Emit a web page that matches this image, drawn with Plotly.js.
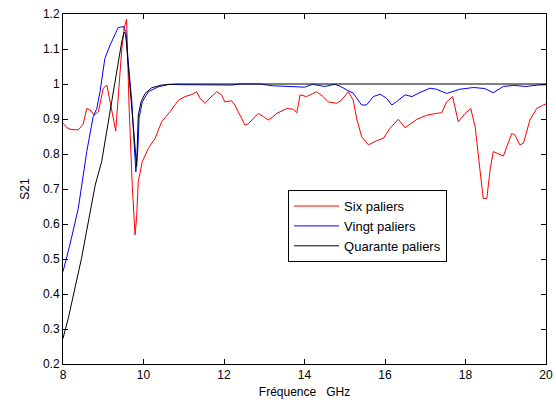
<!DOCTYPE html>
<html>
<head>
<meta charset="utf-8">
<script src="https://cdn.plot.ly/plotly-3.0.1.min.js"></script>
<style>html,body{margin:0;padding:0;background:#fff;}#chart{width:556px;height:403px;}</style>
</head>
<body>
<div id="chart"></div>
<script>
var seriesNames = ["Six paliers", "Vingt paliers", "Quarante paliers"];

var sixX = [8.0, 8.1, 8.2, 8.38, 8.5, 8.59, 8.67, 8.78, 8.88, 9.0, 9.09, 9.2, 9.31, 9.46, 9.52, 9.58, 9.64, 9.72, 9.79, 9.83, 9.87, 9.97, 10.12, 10.29, 10.45, 10.66, 10.87, 11.03, 11.2, 11.32, 11.4, 11.53, 11.65, 11.82, 11.94, 12.02, 12.19, 12.27, 12.4, 12.52, 12.6, 12.72, 12.85, 12.98, 13.1, 13.2, 13.31, 13.56, 13.72, 13.81, 13.89, 14.05, 14.3, 14.45, 14.59, 14.8, 14.92, 15.09, 15.21, 15.3, 15.42, 15.59, 15.79, 15.96, 16.12, 16.33, 16.5, 16.79, 17.04, 17.28, 17.41, 17.53, 17.68, 17.82, 17.99, 18.13, 18.24, 18.36, 18.44, 18.53, 18.61, 18.69, 18.94, 19.15, 19.23, 19.35, 19.44, 19.6, 19.77, 19.93, 20.0];
var sixY = [0.888, 0.875, 0.87, 0.869, 0.885, 0.93, 0.926, 0.911, 0.921, 0.988, 0.997, 0.93, 0.866, 1.10, 1.16, 1.185, 0.94, 0.711, 0.569, 0.62, 0.721, 0.778, 0.816, 0.845, 0.892, 0.921, 0.954, 0.964, 0.97, 0.978, 0.96, 0.945, 0.96, 0.978, 0.969, 0.949, 0.952, 0.94, 0.91, 0.883, 0.886, 0.9, 0.916, 0.907, 0.897, 0.905, 0.916, 0.93, 0.928, 0.918, 0.969, 0.964, 0.978, 0.965, 0.949, 0.945, 0.954, 0.978, 0.954, 0.9, 0.849, 0.826, 0.838, 0.845, 0.873, 0.899, 0.875, 0.899, 0.911, 0.916, 0.918, 0.949, 0.964, 0.892, 0.916, 0.93, 0.878, 0.754, 0.673, 0.673, 0.754, 0.807, 0.794, 0.859, 0.854, 0.826, 0.831, 0.897, 0.93, 0.94, 0.943];

var vingtX = [8.0, 8.17, 8.38, 8.59, 8.75, 8.84, 8.92, 9.04, 9.17, 9.37, 9.5, 9.56, 9.62, 9.71, 9.77, 9.81, 9.86, 9.89, 9.97, 10.12, 10.37, 10.62, 11.0, 11.4, 12.2, 12.4, 12.9, 13.2, 14.0, 14.2, 14.5, 14.75, 14.88, 15.05, 15.21, 15.42, 15.54, 15.71, 15.88, 16.04, 16.17, 16.29, 16.5, 16.67, 16.87, 17.12, 17.28, 17.53, 17.86, 18.2, 18.48, 18.69, 18.94, 19.2, 19.5, 19.8, 20.0];
var vingtY = [0.464, 0.54, 0.645, 0.807, 0.907, 0.93, 0.978, 1.073, 1.111, 1.161, 1.164, 1.15, 1.064, 0.949, 0.826, 0.749, 0.816, 0.902, 0.949, 0.978, 0.992, 0.999, 0.998, 0.997, 0.997, 1.0, 1.0, 0.995, 0.991, 0.999, 0.993, 0.999, 0.994, 0.983, 0.974, 0.94, 0.94, 0.964, 0.971, 0.959, 0.94, 0.95, 0.969, 0.964, 0.976, 0.988, 0.985, 0.973, 0.985, 0.99, 0.987, 0.975, 0.993, 0.996, 0.993, 0.997, 0.998];

var quaranteX = [8.0, 8.13, 8.46, 8.63, 8.8, 8.96, 9.13, 9.29, 9.46, 9.52, 9.56, 9.62, 9.69, 9.77, 9.79, 9.83, 9.87, 9.94, 10.04, 10.2, 10.45, 10.8, 12.0, 14.0, 16.0, 18.0, 20.0];
var quaranteY = [0.273, 0.33, 0.502, 0.607, 0.711, 0.778, 0.892, 1.007, 1.121, 1.148, 1.14, 1.054, 0.949, 0.85, 0.826, 0.765, 0.911, 0.949, 0.973, 0.989, 0.997, 1.0, 1.0, 1.0, 1.0, 1.0, 1.0];

var xTicks = [8, 10, 12, 14, 16, 18, 20];
var yTicks = [0.2, 0.3, 0.4, 0.5, 0.6, 0.7, 0.8, 0.9, 1, 1.1, 1.2];
var yTickText = ["0.2", "0.3", "0.4", "0.5", "0.6", "0.7", "0.8", "0.9", "1", "1.1", "1.2"];

var font = "Liberation Sans, Arial, sans-serif";

var traces = [
  {x: sixX, y: sixY, name: seriesNames[0], mode: "lines", line: {color: "#ff0000", width: 1}},
  {x: vingtX, y: vingtY, name: seriesNames[1], mode: "lines", line: {color: "#0000ff", width: 1}},
  {x: quaranteX, y: quaranteY, name: seriesNames[2], mode: "lines", line: {color: "#000000", width: 1}}
];

var axisCommon = {
  showline: true, linecolor: "#000", linewidth: 1, mirror: "ticks",
  ticks: "inside", ticklen: 5, tickcolor: "#000", showgrid: false, zeroline: false,
  tickfont: {family: font, size: 12, color: "#000"}
};

var layout = {
  width: 556, height: 403,
  margin: {l: 63, r: 10, t: 14, b: 39},
  paper_bgcolor: "#fff", plot_bgcolor: "#fff",
  font: {family: font, size: 12, color: "#000"},
  xaxis: Object.assign({}, axisCommon, {
    range: [8, 20], tickvals: xTicks, ticktext: xTicks.map(String),
    title: {text: "Fréquence\u00a0\u00a0\u00a0GHz", font: {family: font, size: 12, color: "#000"}, standoff: 6}
  }),
  yaxis: Object.assign({}, axisCommon, {
    range: [0.2, 1.2], tickvals: yTicks, ticktext: yTickText,
    title: {text: "S21", font: {family: font, size: 12, color: "#000"}, standoff: 10}
  }),
  showlegend: true,
  legend: {
    x: 0.466, y: 0.497, xanchor: "left", yanchor: "top",
    bordercolor: "#000", borderwidth: 1, bgcolor: "#fff",
    font: {family: font, size: 13, color: "#000"},
    itemwidth: 45, tracegroupgap: 0
  }
};

Plotly.newPlot("chart", traces, layout, {displayModeBar: false, staticPlot: true});
</script>
</body>
</html>
